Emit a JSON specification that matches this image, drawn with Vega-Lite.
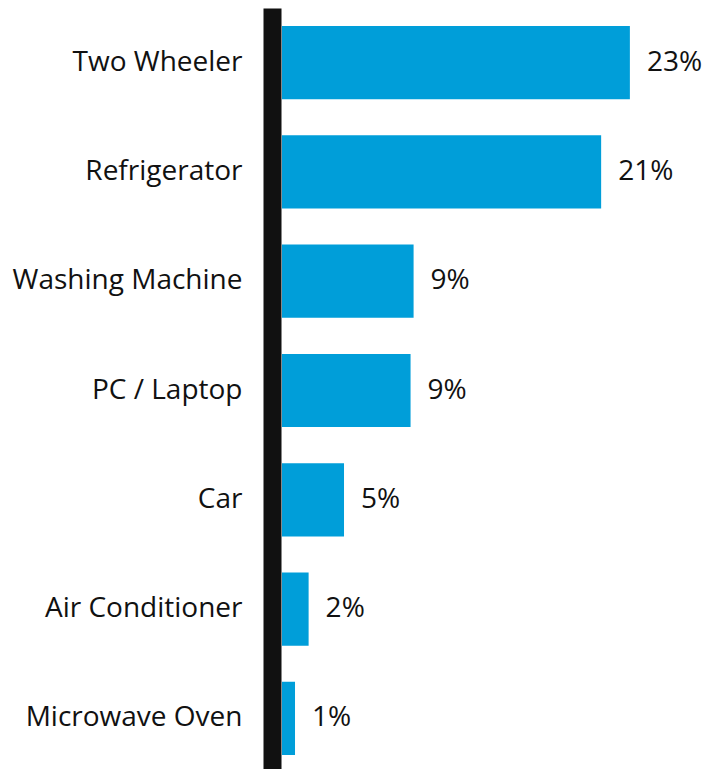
{
  "$schema": "https://vega.github.io/schema/vega-lite/v6.json",
  "autosize": {"type": "none"},
  "padding": {"left": 282, "top": 8, "right": 0, "bottom": 0},
  "width": 422,
  "height": 765,
  "background": "white",
  "config": {"view": {"stroke": null}, "font": "Open Sans"},
  "data": {"values": [
    {"item": "Two Wheeler", "share": 23.0, "label": "23%"},
    {"item": "Refrigerator", "share": 21.1, "label": "21%"},
    {"item": "Washing Machine", "share": 8.7, "label": "9%"},
    {"item": "PC / Laptop", "share": 8.5, "label": "9%"},
    {"item": "Car", "share": 4.1, "label": "5%"},
    {"item": "Air Conditioner", "share": 1.76, "label": "2%"},
    {"item": "Microwave Oven", "share": 0.86, "label": "1%"}
  ]},
  "encoding": {
    "y": {"field": "item", "type": "nominal", "sort": null,
      "scale": {"paddingInner": 0.33, "paddingOuter": 0.165},
      "axis": {"title": null, "ticks": false, "tickSize": 0, "offset": 10, "domainWidth": 18, "domainColor": "#111111", "labelFontSize": 28, "labelColor": "#111111", "labelPadding": 30, "labelLimit": 0, "labelFont": "Open Sans"}},
    "x": {"field": "share", "type": "quantitative", "scale": {"domain": [0, 27.9]}, "axis": null}
  },
  "layer": [
    {"mark": {"type": "bar", "color": "#009ED9"}},
    {"mark": {"type": "text", "align": "left", "baseline": "middle", "dx": 17, "fontSize": 28, "color": "#111111", "font": "Open Sans"},
     "encoding": {"text": {"field": "label"}}}
  ]
}
